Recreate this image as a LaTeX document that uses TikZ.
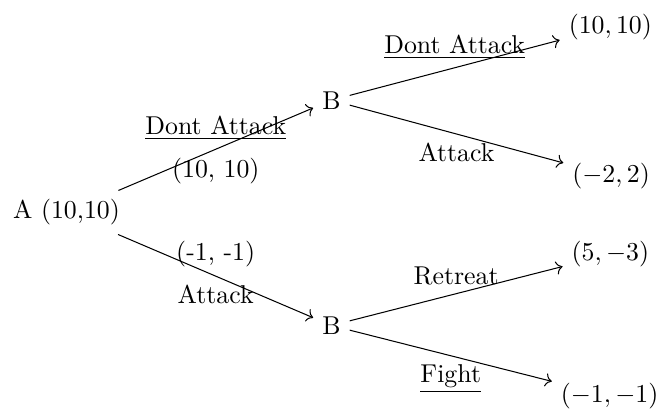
\documentclass[tikz,border=0pt]{standalone}
\usepackage{amsmath}
\usepackage{tikz}
\usetikzlibrary{arrows.meta, positioning}

\begin{document}
\begin{tikzpicture}[
  player/.style={inner sep=3.33pt},
  payoff/.style={inner sep=3.33pt},
  move/.style={->}
]
  \useasboundingbox (-0.906,-2.786) rectangle (8.10,2.895);
  % players
  \node[player] (a)  at (0,0)       {A (10,10)};
  \node[player] (b1) at (3.61,1.53)  {B};
  \node[player] (b2) at (3.61,-1.54) {B};
  % payoffs
  \node[payoff] (p1) at (7.41,2.53)  {$(10,10)$};
  \node[payoff] (p2) at (7.42,0.50)  {$(-2,2)$};
  \node[payoff] (p3) at (7.41,-0.57) {$(5,-3)$};
  \node[payoff] (p4) at (7.40,-2.50) {$(-1,-1)$};
  % moves of A
  \draw[move] (a) -- node[above] {\underline{Dont Attack}} node[below] {(10, 10)} (b1);
  \draw[move] (a) -- node[above] {(-1, -1)} node[below] {Attack} (b2);
  % moves of B
  \draw[move] (b1) -- node[above] {\underline{Dont Attack}} (p1);
  \draw[move] (b1) -- node[below] {Attack} (p2);
  \draw[move] (b2) -- node[above] {Retreat} (p3);
  \draw[move] (b2) -- node[below] {\underline{Fight}} (p4);
\end{tikzpicture}
\end{document}
